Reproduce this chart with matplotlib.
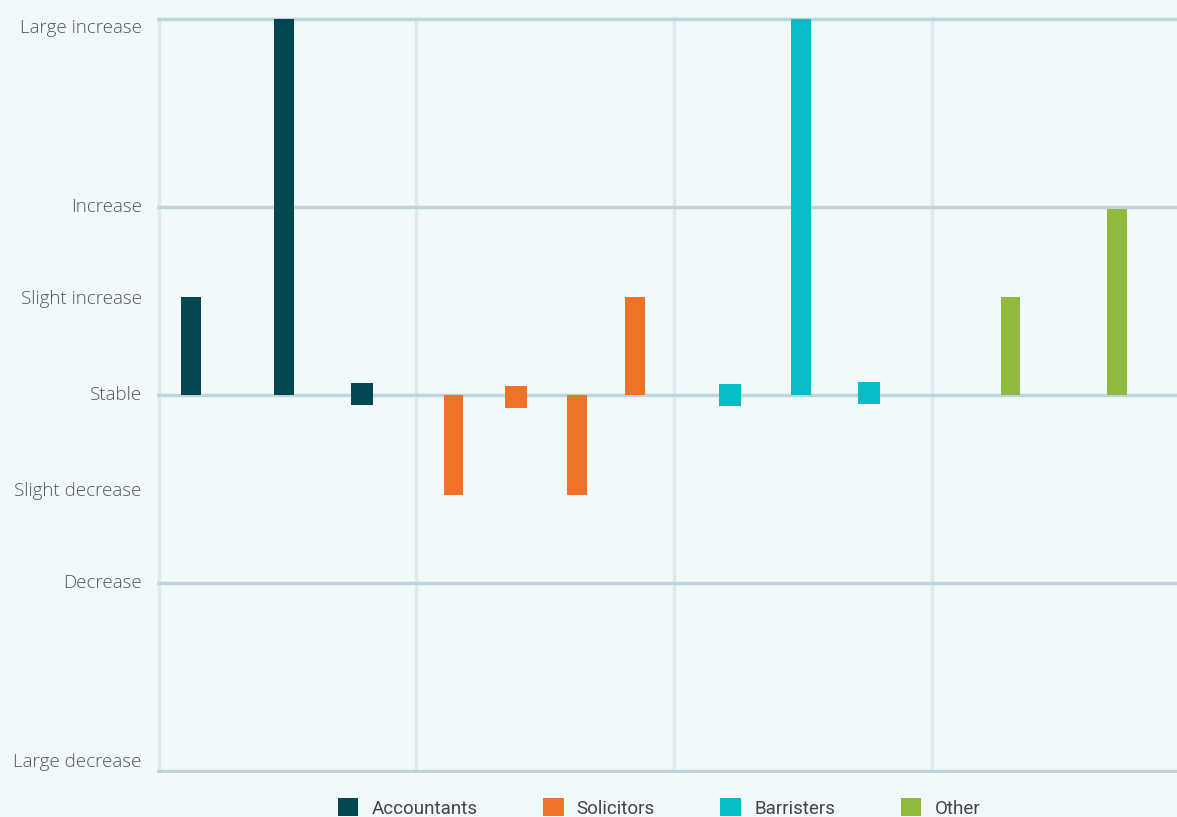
import matplotlib.pyplot as plt
from matplotlib.patches import Patch

# scale: 0 = stable, +/-1 = (de)increase, +/-2 = large
level_pos = [2, 1, 0, -1, -2]
level_labels = ["Large increase", "Increase", "Stable", "Decrease", "Large decrease"]
slight_pos = [0.52, -0.5]
slight_labels = ["Slight increase", "Slight decrease"]

series = ["Accountants", "Solicitors", "Barristers", "Other"]
colors = ["#024751", "#EE7326", "#07BCC7", "#8FBA3E"]

# x positions and values per series (value ~0 drawn as a small square)
acc_x = [0.126, 0.486, 0.790]
acc_v = [0.52, 2.0, 0.005]
sol_x = [1.144, 1.386, 1.624, 1.849]
sol_v = [-0.53, -0.01, -0.53, 0.52]
bar_x = [2.218, 2.493, 2.757]
bar_v = [0.0, 2.0, 0.01]
oth_x = [3.304, 3.718]
oth_v = [0.52, 0.99]

xs = [acc_x, sol_x, bar_x, oth_x]
vs = [acc_v, sol_v, bar_v, oth_v]

bg = "#F1F9FB"
plt.rcParams["font.family"] = ["Open Sans", "DejaVu Sans"]

fig = plt.figure(figsize=(11.77, 8.17), dpi=100, facecolor=bg)
ax = fig.add_axes([157 / 1177, 1 - 773 / 817, 1 - 157 / 1177, (773 - 17) / 817])
ax.set_facecolor(bg)

for x, v, c in zip(xs, vs, colors):
    big = [(xi, vi) for xi, vi in zip(x, v) if abs(vi) > 0.05]
    small = [(xi, vi) for xi, vi in zip(x, v) if abs(vi) <= 0.05]
    if big:
        ax.bar([b[0] for b in big], [b[1] for b in big], width=0.077, color=c, zorder=3)
    if small:
        ax.scatter([s[0] for s in small], [s[1] for s in small], marker="s", s=250,
                   color=c, linewidths=0, zorder=3)

ax.set_xlim(-0.006, 3.95)
ax.set_ylim(-2.008, 2.008)
ax.set_xticks([0, 1, 2, 3])
ax.set_xticklabels([])
ax.set_yticks(level_pos)
ax.set_yticklabels(level_labels)
ax.set_yticks(slight_pos, minor=True)
ax.set_yticklabels(slight_labels, minor=True)
ax.tick_params(axis="both", which="both", length=0)
ax.tick_params(axis="y", which="both", pad=11, labelsize=13.5, labelcolor="#555555")

ax.grid(axis="y", which="major", color="#BFD5DD", linewidth=2.5, zorder=1)
ax.grid(axis="x", which="major", color="#DCEAEF", linewidth=2.5, zorder=1)
for s in ax.spines.values():
    s.set_visible(False)

for t in ax.get_yticklabels(which="both"):
    t.set_fontweight("light")
ylabs = ax.get_yticklabels()
ylabs[0].set_va("top")
ylabs[-1].set_va("bottom")
for t in ylabs[1:-1]:
    t.set_va("center")

handles = [Patch(facecolor=c, label=n) for n, c in zip(series, colors)]
ax.legend(handles=handles, loc="upper center", bbox_to_anchor=(0.492, -0.011), ncol=4,
          frameon=False, handlelength=1.1, handleheight=1.1, handletextpad=0.7,
          columnspacing=3.5, prop={"family": "Roboto", "size": 13.5},
          labelcolor="#444444")

fig.savefig("out.png", dpi=100, facecolor=bg)
